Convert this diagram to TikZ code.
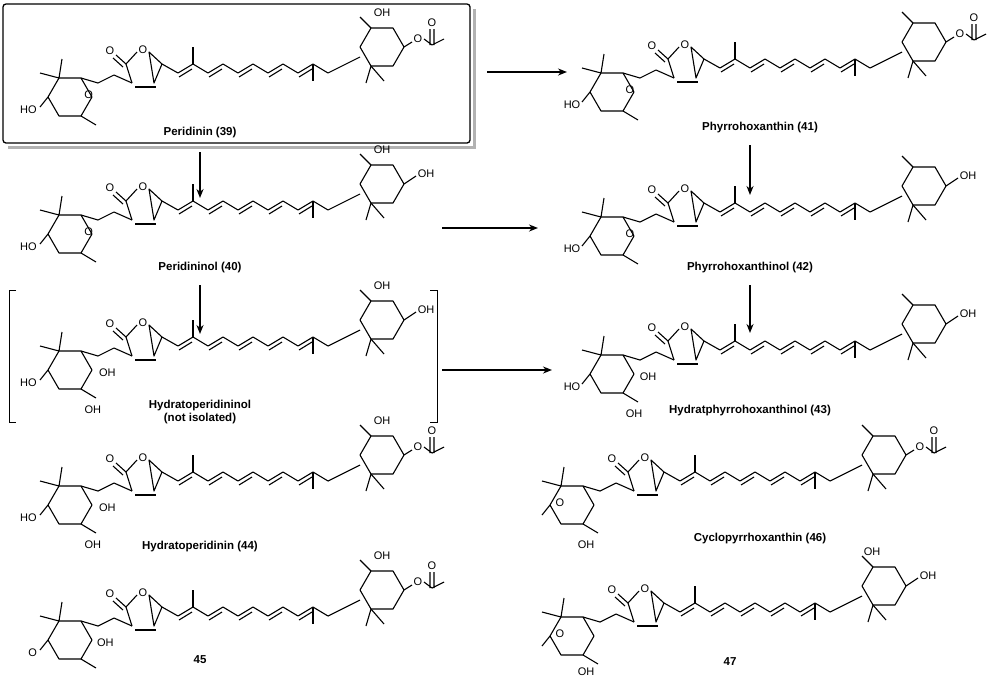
\documentclass[tikz,border=0pt]{standalone}
\usepackage{fontspec}
\setmainfont{Liberation Sans}
\usetikzlibrary{arrows.meta}
\begin{document}
\begin{tikzpicture}[x=1pt,y=-1pt,
 bond/.style={line width=1.1pt,line join=round},
 lab/.style={font=\fontsize{11.5}{13}\selectfont\bfseries,align=center},
 atom/.style={font=\fontsize{11}{12}\selectfont,inner sep=0pt},
 arr/.style={line width=1.6pt,-{Stealth[length=9pt,width=7pt]}}]
\useasboundingbox (0,0) rectangle (1000,678);
\tikzset{
 carot/.pic={
  \draw[bond] (22,0)--(11,19)--(-11,19)--(-22,0)--(-11,-19)--(11,-19)--cycle;
  \draw[bond] (-11,-19)--(-30,-24) (-11,-19)--(-8,-38);
  \draw[bond] (11,19)--(26,28);
  \draw[bond] (-22,0)--(-30,10);
  \draw[bond] (11,-19)--(28,-14)--(44,-22)--(62,-14);
  \draw[bond] (62,-14)--(56,-33)--(67,-45) (79,-45)--(92,-33)--(84,-14)--cycle;
  \draw[bond] (65,-10)--(86,-10);
  \draw[bond] (56,-33)--(46,-42) (53,-30)--(43,-39);
  \node[atom] at (40,-46){O};
  \node[atom] at (73,-47){O};
  \draw[bond] (92,-33)--(108,-24)--(123,-33)--(138,-24)--(153,-33)--(168,-24)--(183,-33)--(198,-24)--(213,-33)--(228,-24)--(243,-33)--(258,-24);
  \draw[bond] (109,-20)--(122,-28) (139,-20)--(152,-28) (169,-20)--(182,-28) (199,-20)--(212,-28) (229,-20)--(242,-28);
  \draw[bond] (123,-33)--(123,-50) (243,-33)--(243,-16) ;
  \draw[bond] (258,-24)--(290,-40);
  \draw[bond] (334,-50)--(323,-31)--(301,-31)--(290,-50)--(301,-69)--(323,-69)--cycle;
  \draw[bond] (301,-31)--(296,-14) (301,-31)--(314,-16);
  \draw[bond] (301,-69)--(290,-80);
 },
 oac/.pic={
  \draw[bond] (334,-50)--(342,-55);
  \node[atom] at (348,-58){O};
  \draw[bond] (354,-58)--(362,-52)--(374,-58) (360,-52)--(360,-68) (364,-52)--(364,-68);
  \node[atom] at (362,-74){O};
 },
 ohr/.pic={
  \draw[bond] (334,-50)--(346,-58);
  \node[atom] at (356,-60){OH};
 }
}
\draw[line width=3pt,gray!60] (8,147)--(474,147)--(474,9);
\draw[line width=1.3pt,rounded corners=3pt] (3,4) rectangle (470,143);
\begin{scope}[shift={(70,97)},xscale=1.04]
 \pic{carot}; \pic{oac};
 \node[atom] at (-40,13){HO}; \node[atom] at (18,-2){O};
 \node[atom] at (300,-84){OH};
\end{scope}
\begin{scope}[shift={(612,92)}]
 \pic{carot}; \pic{oac};
 \node[atom] at (-40,13){HO}; \node[atom] at (18,-2){O};
\end{scope}
\begin{scope}[shift={(70,234)},xscale=1.04]
 \pic{carot}; \pic{ohr};
 \node[atom] at (-40,13){HO}; \node[atom] at (18,-2){O};
 \node[atom] at (300,-84){OH};
\end{scope}
\begin{scope}[shift={(612,236)}]
 \pic{carot}; \pic{ohr};
 \node[atom] at (-40,13){HO}; \node[atom] at (18,-2){O};
\end{scope}
\begin{scope}[shift={(70,370)},xscale=1.04]
 \pic{carot}; \pic{ohr};
 \node[atom] at (-40,13){HO}; \node[atom] at (36,3){OH}; \node[atom] at (22,40){OH};
 \node[atom] at (300,-84){OH};
\end{scope}
\begin{scope}[shift={(612,374)}]
 \pic{carot}; \pic{ohr};
 \node[atom] at (-40,13){HO}; \node[atom] at (36,3){OH}; \node[atom] at (22,40){OH};
\end{scope}
\begin{scope}[shift={(70,505)},xscale=1.04]
 \pic{carot}; \pic{oac};
 \node[atom] at (-40,13){HO}; \node[atom] at (36,3){OH}; \node[atom] at (22,40){OH};
 \node[atom] at (300,-84){OH};
\end{scope}
\begin{scope}[shift={(572,505)}]
 \pic{carot}; \pic{oac};
 \node[atom] at (-12,-2){O}; \node[atom] at (14,40){OH};
\end{scope}
\begin{scope}[shift={(70,640)},xscale=1.04]
 \pic{carot}; \pic{oac};
 \node[atom] at (-36,13){O}; \node[atom] at (34,3){OH};
 \node[atom] at (300,-84){OH};
\end{scope}
\begin{scope}[shift={(572,636)}]
 \pic{carot}; \pic{ohr};
 \node[atom] at (-12,-2){O}; \node[atom] at (14,36){OH};
 \node[atom] at (300,-84){OH};
\end{scope}
\node[lab] (l39) at (200,133){Peridinin (39)};
\node[lab] (l41) at (760,128){Phyrrohoxanthin (41)};
\node[lab] (l40) at (200,268){Peridininol (40)};
\node[lab] (l42) at (750,268){Phyrrohoxanthinol (42)};
\node[lab] (lh) at (200,412){Hydratoperidininol\\(not isolated)};
\node[lab] (l43) at (750,411){Hydratphyrrohoxanthinol (43)};
\node[lab] (l44) at (200,547){Hydratoperidinin (44)};
\node[lab] (l46) at (760,539){Cyclopyrrhoxanthin (46)};
\node[lab] (l45) at (200,660){45};
\node[lab] (l47) at (730,662){47};
\coordinate (a1) at (487,72); \coordinate (b1) at (567,72);
\coordinate (a2) at (200,152); \coordinate (b2) at (200,198);
\coordinate (a3) at (442,228); \coordinate (b3) at (538,228);
\coordinate (a4) at (750,145); \coordinate (b4) at (750,195);
\coordinate (a5) at (200,285); \coordinate (b5) at (200,334);
\coordinate (a6) at (750,285); \coordinate (b6) at (750,333);
\coordinate (a7) at (442,370); \coordinate (b7) at (552,370);
\foreach \i in {1,...,7} \draw[arr] (a\i)--(b\i);
\draw[line width=0.8pt] (16,290)--(9,290)--(9,422)--(16,422);
\draw[line width=0.8pt] (430,290)--(437,290)--(437,422)--(430,422);
\end{tikzpicture}
\end{document}
